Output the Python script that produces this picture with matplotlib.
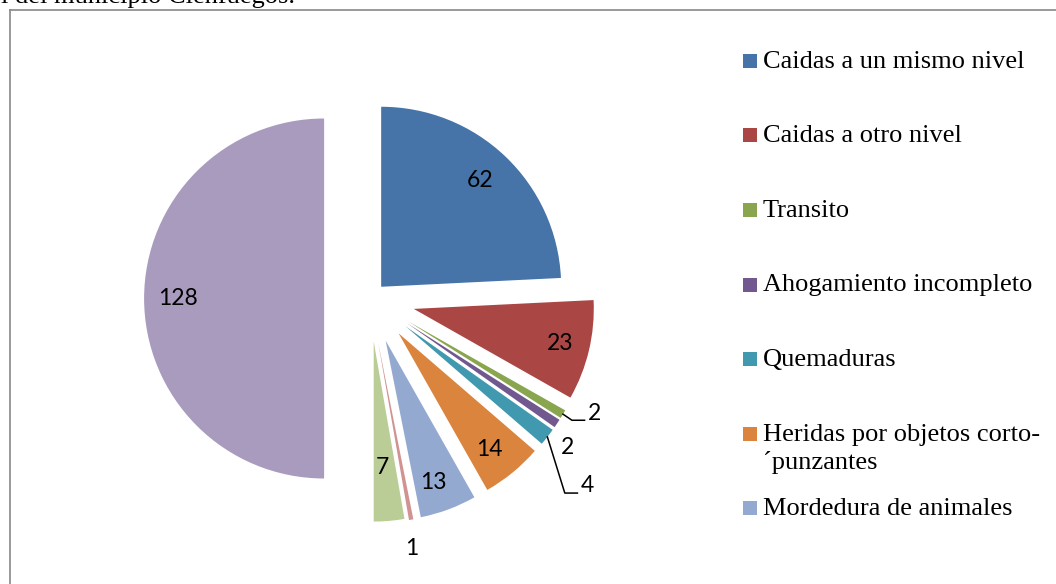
import matplotlib
matplotlib.use('Agg')
import numpy as np
import matplotlib.pyplot as plt
from matplotlib.lines import Line2D
from matplotlib.patches import Rectangle

# data
categorias = ['Caidas a un mismo nivel', 'Caidas a otro nivel', 'Transito',
              'Ahogamiento incompleto', 'Quemaduras',
              'Heridas por objetos corto-\n\u00b4punzantes',
              'Mordedura de animales', 'Otros 1', 'Otros 2', 'Otros 3']
valores = [62, 23, 2, 2, 4, 14, 13, 1, 7, 128]
n_leyenda = 7  # only the first 7 entries fit in the legend box

colores = ['#4673A8', '#AA4644', '#89A54E', '#71598F', '#4199AF',
           '#DB843D', '#93A9CF', '#D19392', '#BACD96', '#A99BBD']
explode = [0.09, 0.25, 0.25, 0.25, 0.25, 0.25, 0.25, 0.25, 0.24, 0.255]
# label distance (in radii from pie centre) and angle nudge (deg)
lab_r = [0.894, 1.083, 1.40, 1.375, 1.594, 1.072, 1.083, 1.411, 0.939, 1.067]
lab_da = [0.5, 0, 3.9, -3.15, -2.8, -1.0, -1.3, -1.0, -0.8, 0]
leader = [False, False, True, False, True, False, False, False, False, False]

W, H = 1056, 584
CX, CY, R = 370, 298.5, 180  # pie centre / radius in pixels

fig = plt.figure(figsize=(W / 100, H / 100), dpi=100)
ax = fig.add_axes([0, 0, 1, 1])
wedges, _ = ax.pie(valores, colors=colores, explode=explode, startangle=90,
                   counterclock=False, radius=1,
                   wedgeprops=dict(linewidth=0))
ax.set_xlim(-CX / R, (W - CX) / R)
ax.set_ylim((CY - H) / R, CY / R)
ax.set_aspect('equal', adjustable='box')
ax.axis('off')

# data labels
for i, w in enumerate(wedges):
  mid = (w.theta1 + w.theta2) / 2
  a = np.radians(mid + lab_da[i])
  lx, ly = lab_r[i] * np.cos(a), lab_r[i] * np.sin(a)
  ax.text(lx, ly, str(valores[i]), ha='center', va='center',
          fontsize=16.5, family=['Lato', 'DejaVu Sans'], color='black')
  if leader[i]:
    m = np.radians(mid)
    tip = (1 + explode[i]) * np.array([np.cos(m), np.sin(m)])
    ex, ey = lx - 0.125, ly - 0.04
    ax.plot([tip[0], ex, lx - 0.055], [tip[1], ey, ey], color='black', lw=1.1)

# legend drawn by hand (Excel truncates it)
def fx(px):
  return px / W

def fy(py):
  return 1 - py / H

for i in range(n_leyenda):
  yc = 61 + 74.5 * i
  fig.add_artist(Rectangle((fx(743), fy(yc + 7)), 14 / W, 14 / H,
                           transform=fig.transFigure, color=colores[i], lw=0))
  for k, linea in enumerate(categorias[i].split('\n')):
    fig.text(fx(763), fy(yc + 7 + 29 * k), linea, ha='left', va='baseline',
             fontsize=19, family=['Liberation Serif', 'DejaVu Serif'])

# chart border (only left and top visible)
borde = '#878787'
fig.add_artist(Line2D([fx(9.5), fx(9.5)], [fy(9.5), 0], color=borde, lw=1.2,
                      transform=fig.transFigure))
fig.add_artist(Line2D([fx(9.5), 1], [fy(9.5), fy(9.5)], color=borde, lw=1.2,
                      transform=fig.transFigure))

# caption cut at the top of the page
fig.text(fx(1), fy(2.5), 'l del municipio Cienfuegos.', ha='left', va='baseline',
         fontsize=19, family=['Liberation Serif', 'DejaVu Serif'])

fig.savefig('out.png', dpi=100)
